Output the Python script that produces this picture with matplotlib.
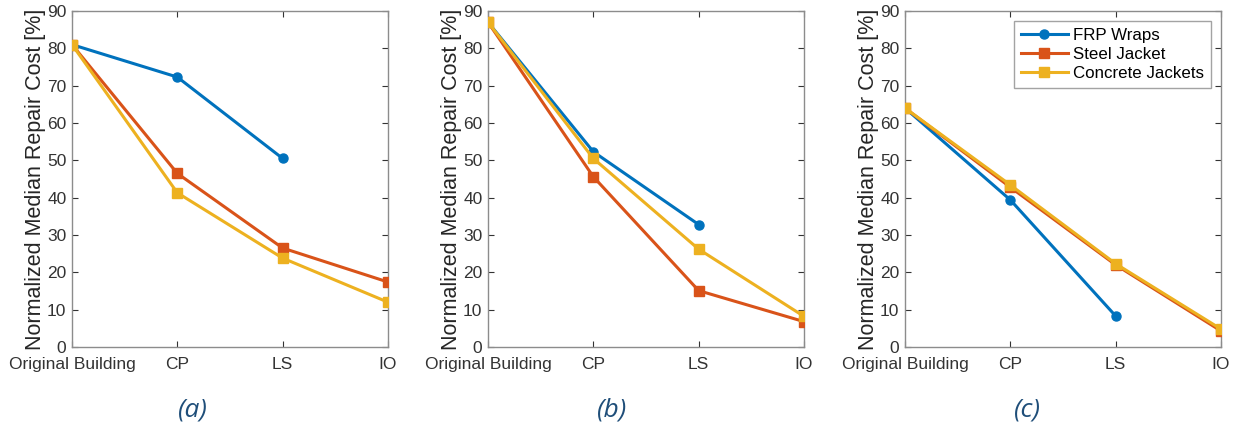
import matplotlib
matplotlib.use("Agg")
import matplotlib.pyplot as plt

plt.rcParams['font.family'] = ['Liberation Sans', 'DejaVu Sans']

categories = ["Original Building", "CP", "LS", "IO"]
series_names = ["FRP Wraps", "Steel Jacket", "Concrete Jackets"]
colors = ["#0072BD", "#D95319", "#EDB120"]
markers = ["o", "s", "s"]

# panel (a)
a_frp = [81.0, 72.3, 50.5]
a_steel = [81.0, 46.5, 26.5, 17.4]
a_concrete = [81.0, 41.3, 23.8, 12.0]
# panel (b)
b_frp = [87.0, 52.3, 32.8]
b_steel = [87.0, 45.6, 15.1, 6.8]
b_concrete = [87.0, 50.5, 26.2, 8.2]
# panel (c)
c_frp = [64.0, 39.4, 8.3]
c_steel = [64.0, 42.8, 22.0, 4.3]
c_concrete = [64.0, 43.4, 22.3, 4.8]

panels = [(a_frp, a_steel, a_concrete), (b_frp, b_steel, b_concrete), (c_frp, c_steel, c_concrete)]
panel_labels = ["(a)", "(b)", "(c)"]
yticks = list(range(0, 91, 10))

W, H = 1234, 429
fig = plt.figure(figsize=(W / 100, H / 100), dpi=100)
lefts = [72, 488, 905]
axw = 316
top, bottom = 11, 347
label_x = [193, 612, 1027]

for i, data in enumerate(panels):
    ax = fig.add_axes([lefts[i] / W, 1 - bottom / H, axw / W, (bottom - top) / H])
    for j, vals in enumerate(data):
        x = list(range(len(vals)))
        ax.plot(x, vals, color=colors[j], marker=markers[j], lw=2.2, ms=6.5,
                label=series_names[j], zorder=3 + j)
    ax.set_xlim(0, 3)
    ax.set_ylim(0, 90)
    ax.set_xticks(range(4))
    ax.set_xticklabels(categories)
    ax.set_yticks(yticks)
    ax.tick_params(direction='in', length=4, colors='#333333', labelsize=12.5,
                   pad=4, top=True, right=True, labeltop=False, labelright=False)
    ax.tick_params(axis='x', pad=7)
    for s in ax.spines.values():
        s.set_color('#8c8c8c')
        s.set_linewidth(1.0)
    ax.set_ylabel("Normalized Median Repair Cost [%]", fontsize=15.5, color='#262626', labelpad=1)
    if i == 2:
        leg = ax.legend(loc='upper right', fontsize=12.2, frameon=True, fancybox=False,
                        edgecolor='#8c8c8c', handlelength=2.8, borderpad=0.4,
                        labelspacing=0.25, handletextpad=0.3, borderaxespad=0.6)
        leg.get_frame().set_linewidth(1.0)
    fig.text(label_x[i] / W, 1 - 410 / H, panel_labels[i], ha='center', va='center',
             fontsize=19, style='italic', color='#1F4E79', family=['Open Sans', 'DejaVu Sans'])

fig.savefig("out.png", dpi=100)
